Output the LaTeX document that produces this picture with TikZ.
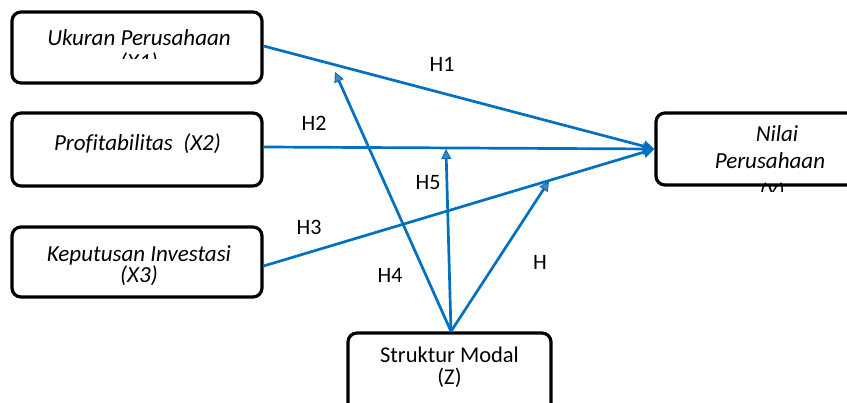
\documentclass[tikz,border=0pt]{standalone}
\usepackage{fontspec}
\setmainfont{Carlito}[Ligatures=NoCommon]
\usetikzlibrary{arrows.meta}
\definecolor{linkblue}{RGB}{0,112,192}
\definecolor{tipfill}{RGB}{79,129,189}
\begin{document}
\begin{tikzpicture}[x=1pt,y=-1pt,
  varbox/.style={draw=black,line width=3.2pt,rounded corners=9pt,fill=white,inner sep=0pt},
  itext/.style={anchor=base,inner sep=0pt,font=\fontsize{23}{26}\selectfont\itshape},
  rtext/.style={anchor=base,inner sep=0pt,font=\fontsize{22.5}{26}\selectfont},
  hyp/.style={inner sep=0pt,font=\fontsize{22}{26}\selectfont},
  link/.style={draw=linkblue,line width=2.7pt},
  maintip/.style={-{Triangle[length=11pt,width=11pt]}},
  sidetip/.style={-{Triangle[length=10pt,width=10pt,line width=1pt,fill=tipfill]}}
]
\useasboundingbox (0,0) rectangle (847,403);

% variable boxes
\node[varbox,minimum width=250pt,minimum height=71pt] (x1) at (137,47.5) {};
\node[varbox,minimum width=250pt,minimum height=73pt] (x2) at (137,149.5) {};
\node[varbox,minimum width=250pt,minimum height=70pt] (x3) at (137,262) {};
\node[varbox,minimum width=232pt,minimum height=72pt] (y) at (772,149) {};
\node[varbox,minimum width=203pt,minimum height=82pt] (z) at (449.5,374) {};

% box texts (overflowing lines are cut off at the text frame)
\begin{scope}
  \clip (14,14) rectangle (260,59);
  \node[itext] (x1a) at (139,46) {Ukuran Perusahaan};
  \node[itext] (x1b) at (139,70) {(X1)};
\end{scope}
\node[itext] (x2a) at (137.5,150.7) {Profitabilitas\ \ (X2)};
\begin{scope}
  \clip (14,229) rectangle (260,285);
  \node[itext,align=center,font=\fontsize{23}{20}\selectfont\itshape] (x3a) at (139,283) {Keputusan Investasi\\(X3)};
\end{scope}
\begin{scope}
  \clip (658,115) rectangle (847,192);
  \node[itext] (ya) at (777,141.7) {Nilai};
  \node[itext] (yb) at (770,168.3) {Perusahaan};
  \node[itext] (yc) at (772,200) {(Y)};
\end{scope}
\node[rtext] (za) at (449.5,363) {Struktur Modal};
\node[rtext] (zb) at (449.5,385) {(Z)};

% points where the moderating paths meet the direct paths
\coordinate (t4) at (335,72);
\coordinate (t5) at (446,149);
\coordinate (t6) at (549,181);

% direct paths
\draw[link,maintip] ([yshift=1.5pt]x1.east) -- (y.west);
\draw[link,maintip] ([yshift=2.5pt]x2.east) -- (y.west);
\draw[link,maintip] ([yshift=-4pt]x3.east) -- (y.west);

% moderating paths
\draw[link,sidetip] ([xshift=1.5pt]z.north) -- (t4);
\draw[link,sidetip] ([xshift=1.5pt]z.north) -- (t5);
\draw[link,sidetip] ([xshift=1.5pt]z.north) -- (t6);

% hypothesis labels
\node[hyp] (h1) at (442,64) {H1};
\node[hyp] (h2) at (314,123) {H2};
\node[hyp] (h3) at (309,227) {H3};
\node[hyp] (h4) at (390,275) {H4};
\node[hyp] (h5) at (428,183) {H5};
\node[hyp] (h6) at (540,262) {H};
\end{tikzpicture}
\end{document}
